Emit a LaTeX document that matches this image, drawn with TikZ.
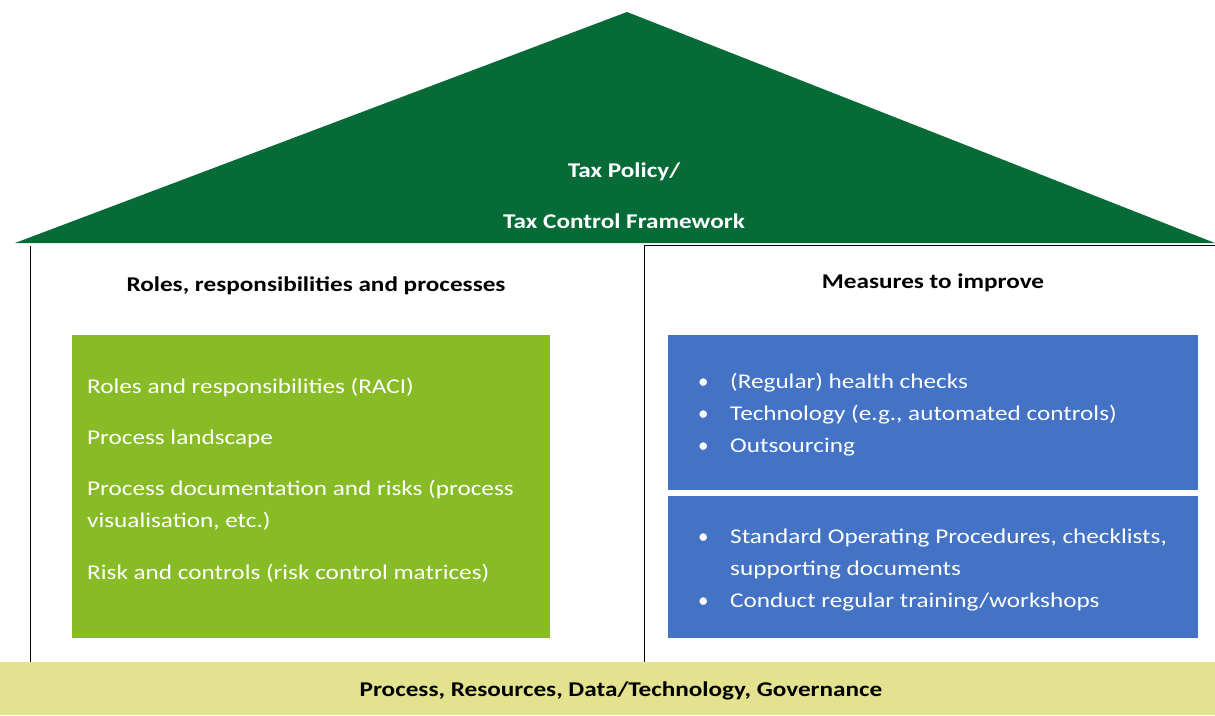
\documentclass[tikz,border=0pt]{standalone}
\usepackage{fontspec}
\setmainfont{Carlito}
\definecolor{roofgreen}{RGB}{7,107,56}
\definecolor{boxgreen}{RGB}{136,188,38}
\definecolor{boxblue}{RGB}{68,114,196}
\definecolor{basebar}{RGB}{227,226,143}
% slightly widened lettering
\newcommand{\widetext}[1]{\scalebox{1.2}[1]{#1}}
\begin{document}
\begin{tikzpicture}[x=1pt,y=-1pt,
  heading/.style={font=\fontsize{21}{24}\selectfont\bfseries, text=black, inner sep=0pt, anchor=base},
  rooftext/.style={font=\fontsize{21}{24}\selectfont\bfseries, text=white, inner sep=0pt, anchor=base},
  item/.style={font=\fontsize{21}{32}\selectfont, text=white, inner sep=0pt, anchor=base west},
  dot/.style={font=\fontsize{21}{32}\selectfont, text=white, inner sep=0pt, anchor=base west}]
\useasboundingbox (0,0) rectangle (1215,715);
% wall outlines
\draw[black, line width=1pt] (30,246) -- (30,662);
\draw[black, line width=1pt] (644,246) -- (644,662);
\draw[black, line width=1pt] (644,245.5) -- (1215,245.5);
% roof
\fill[roofgreen] (627,12) -- (1215,243) -- (15,243) -- cycle;
\node[rooftext] (t1) at (624,177) {\widetext{Tax Policy/}};
\node[rooftext] (t2) at (624,228) {\widetext{Tax Control Framework}};
% column headings
\node[heading] (hl) at (316,291) {\widetext{Roles, responsibilities and processes}};
\node[heading] (hr) at (933,288) {\widetext{Measures to improve}};
% green box
\fill[boxgreen] (72,335) rectangle (550,638);
\node[item] (g1) at (87,393) {\widetext{Roles and responsibilities (RACI)}};
\node[item] (g2) at (87,444) {\widetext{Process landscape}};
\node[item] (g3) at (87,495) {\widetext{Process documentation and risks (process}};
\node[item] (g3b) at (87,527) {\widetext{visualisation, etc.)}};
\node[item] (g4) at (87,579) {\widetext{Risk and controls (risk control matrices)}};
% blue boxes
\fill[boxblue] (668,335) rectangle (1198,490);
\fill[boxblue] (668,496) rectangle (1198,638);
\node[dot] (d1) at (698,388) {•};
\node[dot] (d2) at (698,420) {•};
\node[dot] (d3) at (698,452) {•};
\node[item] (b1) at (730,388) {\widetext{(Regular) health checks}};
\node[item] (b2) at (730,420) {\widetext{Technology (e.g., automated controls)}};
\node[item] (b3) at (730,452) {\widetext{Outsourcing}};
\node[dot] (d4) at (698,543) {•};
\node[dot] (d5) at (698,607) {•};
\node[item] (b4) at (730,543) {\widetext{Standard Operating Procedures, checklists,}};
\node[item] (b4b) at (730,575) {\widetext{supporting documents}};
\node[item] (b5) at (730,607) {\widetext{Conduct regular training/workshops}};
% foundation bar
\fill[basebar] (0,662) rectangle (1215,715);
\node[heading] (base) at (621,696) {\widetext{Process, Resources, Data/Technology, Governance}};
\end{tikzpicture}
\end{document}
